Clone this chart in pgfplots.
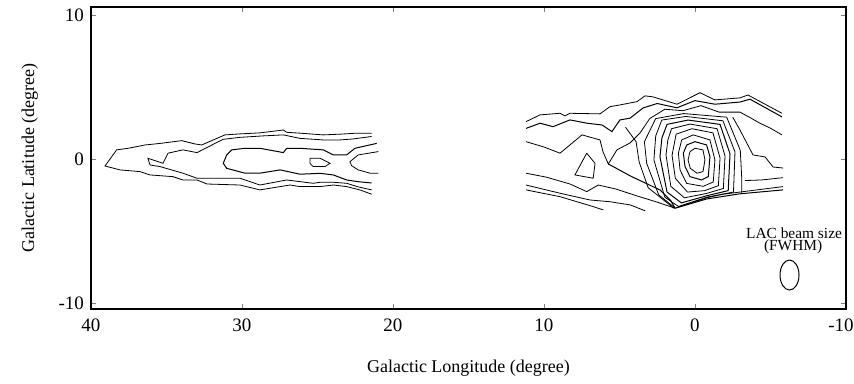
\documentclass[border=0pt]{standalone}
\usepackage{fontspec}
\setmainfont{Liberation Serif}
\usepackage{pgfplots}
\pgfplotsset{compat=1.18}
\begin{document}
\begin{tikzpicture}
\begin{axis}[
  scale only axis, width=377.5pt, height=151pt,
  x dir=reverse, xmin=-10, xmax=40, ymin=-10.42, ymax=10.55,
  xtick={-10,0,10,20,30,40}, ytick={-10,0,10},
  xticklabels={{\makebox[0pt][c]{\hspace{-5pt}-10}},0,10,20,30,40},
  tick align=inside, major tick length=2.5pt,
  /pgf/number format/assume math mode=true,
  tick label style={font=\fontsize{9.5}{10}\selectfont},
  xticklabel style={yshift=-1.5pt},
  label style={font=\fontsize{9}{10}\selectfont},
  xlabel={Galactic Longitude (degree)},
  ylabel={Galactic Latitude (degree)},
  xlabel style={at={(axis description cs:0.5,-0.195)}, anchor=center},
  ylabel style={at={(axis description cs:-0.081,0.5)}, anchor=center},
  axis line style={line width=0.8pt},
  cycle list={{black, solid, line width=0.5pt, mark=none}},
  clip=false,
]
\path[draw=none] (axis description cs:-0.1205,-0.245) rectangle (axis description cs:1.0106,1.0232);
% ---------------- left group ----------------
\addplot coordinates {(21.41,1.79)(22.40,1.79)(23.51,1.72)(24.62,1.67)(26.16,1.79)(27.04,1.85)(27.26,2.01)(28.81,1.81)(30.13,1.74)(31.13,1.67)(32.67,0.97)(33.11,1.04)(33.99,1.27)(35.32,1.09)(36.42,0.97)(37.53,0.74)(38.30,0.63)(39.07,-0.49)(38.08,-0.76)(36.75,-0.88)(36.09,-1.11)(34.57,-1.23)(33.91,-1.46)(32.98,-1.46)(32.32,-1.74)(30.13,-1.81)(28.81,-2.15)(26.82,-1.81)(26.16,-1.92)(24.83,-1.92)(23.95,-1.81)(23.07,-1.92)(22.19,-2.15)(21.41,-2.45)};
\addplot coordinates {(21.41,1.56)(22.63,1.39)(23.51,1.32)(24.62,1.32)(26.16,1.43)(27.26,1.67)(28.61,1.60)(30.13,1.50)(31.26,1.36)(32.98,0.44)(33.91,0.63)(34.90,0.40)(35.23,-0.30)(36.23,0.05)(36.09,-0.42)(35.43,-0.53)(33.91,-0.99)(32.98,-1.34)(32.32,-1.34)(30.13,-1.34)(28.81,-1.81)(27.04,-1.46)(25.28,-1.69)(24.83,-1.62)(23.95,-1.62)(23.07,-1.69)(22.30,-1.94)(21.41,-2.15)};
\addplot coordinates {(21.08,1.08)(22.52,0.74)(23.07,0.28)(23.95,0.28)(24.62,0.63)(26.16,0.74)(27.04,0.74)(27.26,0.44)(28.81,0.74)(29.80,0.74)(30.68,0.63)(31.01,0.28)(31.24,-0.30)(31.01,-0.65)(29.80,-0.99)(28.81,-0.99)(27.47,-0.76)(26.16,-1.06)(24.83,-1.00)(23.95,-1.11)(23.07,-1.46)(22.30,-1.58)(21.41,-1.67)};
\addplot coordinates {(25.50,0.05)(24.83,0.05)(24.17,-0.30)(24.50,-0.53)(25.28,-0.53)(25.50,-0.30)(25.50,0.05)};
\addplot coordinates {(20.97,0.51)(22.30,0.28)(22.85,-0.19)(22.74,-0.47)(22.30,-0.76)(21.52,-0.99)(20.97,-0.99)};
% ---------------- right group ----------------
\addplot coordinates {(11.19,2.59)(10.26,3.06)(8.94,3.17)(8.61,2.99)(8.28,3.17)(6.29,3.13)(5.63,3.63)(4.97,3.75)(3.84,3.98)(3.31,4.38)(2.78,4.31)(1.19,3.80)(-0.33,4.60)(-1.32,4.10)(-2.98,4.24)(-3.51,4.44)(-5.76,3.17)};
\addplot coordinates {(11.19,2.12)(10.26,2.48)(9.40,2.24)(8.28,2.71)(7.15,2.48)(6.16,2.36)(5.50,1.90)(4.97,2.71)(4.30,2.83)(3.44,3.54)(2.50,3.85)(1.20,3.55)(0.00,4.05)(-1.32,3.80)(-2.98,3.95)(-3.64,4.15)(-5.76,2.92)};
\addplot coordinates {(11.19,1.20)(10.00,0.83)(8.94,0.40)(7.48,1.67)(6.29,1.32)(6.09,0.49)(5.74,-0.35)(5.17,0.63)(4.30,1.11)(3.64,1.80)(3.00,2.80)(2.00,3.45)(0.80,3.35)(-0.40,3.70)(-1.60,3.25)(-2.98,3.25)(-3.60,2.90)(-4.30,2.48)(-4.97,2.15)(-5.76,1.67)};
\addplot coordinates {(7.17,0.40)(6.62,-0.30)(6.74,-1.34)(7.95,-1.11)(7.17,0.40)};
\addplot coordinates {(11.19,-0.99)(9.82,-1.27)(8.28,-1.74)(7.17,-2.27)(6.40,-1.81)(5.20,-2.10)(3.90,-2.55)(2.50,-3.00)(1.32,-3.42)};
\addplot coordinates {(5.74,-0.35)(4.19,-1.23)(2.32,-2.15)(1.60,-2.90)(1.32,-3.42)};
\addplot coordinates {(11.19,-1.81)(8.94,-2.38)(6.95,-2.85)(5.63,-2.97)(4.30,-3.19)(3.30,-3.60)};
\addplot coordinates {(11.19,-2.15)(8.94,-2.62)(6.74,-3.31)(6.07,-3.54)};
% core
\addplot coordinates {(0.33,0.51)(0,0.74)(-0.53,0.63)(-0.66,-0.07)(-0.53,-0.88)(-0.13,-0.99)(0.31,-0.65)(0.46,-0.07)(0.33,0.51)};
\addplot coordinates {(0.55,0.97)(0,1.2)(-0.77,0.97)(-0.99,0.16)(-0.88,-1.23)(-0.44,-1.46)(0.33,-1.23)(0.66,-0.53)(0.77,0.40)(0.55,0.97)};
\addplot coordinates {(0.88,1.32)(0.11,1.67)(-0.99,1.32)(-1.32,-0.07)(-1.21,-1.60)(-0.55,-1.90)(0.55,-1.70)(0.99,-0.76)(1.10,0.40)(0.88,1.32)};
\addplot coordinates {(1.25,1.72)(0.2,2.1)(-1.19,1.81)(-1.66,0.07)(-1.55,-1.85)(-0.65,-2.20)(0.50,-2.30)(1.30,-1.35)(1.52,0.25)(1.25,1.72)};
\addplot coordinates {(1.55,2.10)(0.33,2.42)(-1.46,2.10)(-1.99,0.21)(-1.88,-2.05)(-0.75,-2.40)(0.70,-2.70)(1.60,-1.90)(1.92,0.28)(1.80,1.30)(1.55,2.10)};
\addplot coordinates {(1.85,2.40)(0.46,2.70)(-1.66,2.40)(-2.32,0.35)(-2.20,-2.20)(-0.80,-2.55)(0.90,-3.05)(1.85,-2.30)(2.32,0.14)(2.19,1.46)(1.85,2.40)};
\addplot coordinates {(2.20,2.70)(0.60,2.95)(-1.85,2.65)(-2.65,0.49)(-2.55,-2.30)(-0.80,-2.65)(1.10,-3.30)(2.00,-2.65)(2.72,-0.07)(2.60,1.60)(2.20,2.70)};
\addplot coordinates {(1.30,-3.42)(2.40,-2.50)(3.20,-0.30)(3.35,1.20)(2.60,2.80)(0.75,3.15)(-2.10,2.90)(-3.00,0.60)(-3.10,-1.40)(-3.10,-2.37)};
\addplot coordinates {(4.60,2.20)(3.90,1.20)(3.70,-0.20)(3.10,-2.00)(1.40,-3.42)};
\addplot coordinates {(1.32,-3.42)(-0.77,-2.78)(-2.98,-2.42)(-5.83,-2.15)};
\addplot coordinates {(1.26,-3.40)(-0.77,-2.70)(-1.85,-2.45)(-5.83,-1.92)};
\addplot coordinates {(-2.50,2.90)(-2.98,2.01)(-3.84,0.28)(-4.64,0.14)(-5.17,-0.56)(-5.83,-0.63)};
\addplot coordinates {(-3.30,-1.50)(-4.40,-1.46)(-5.83,-1.30)};
% beam annotation
\node[font=\fontsize{7.7}{8}\selectfont] at (axis cs:-6.56,-5.14) {LAC beam size};
\node[font=\fontsize{7.7}{8}\selectfont] at (axis cs:-6.5,-6.11) {(FWHM)};
\draw[line width=0.5pt] (axis cs:-6.26,-8.06) ellipse [x radius=4.75pt, y radius=7.5pt];
\end{axis}
\end{tikzpicture}
\end{document}
